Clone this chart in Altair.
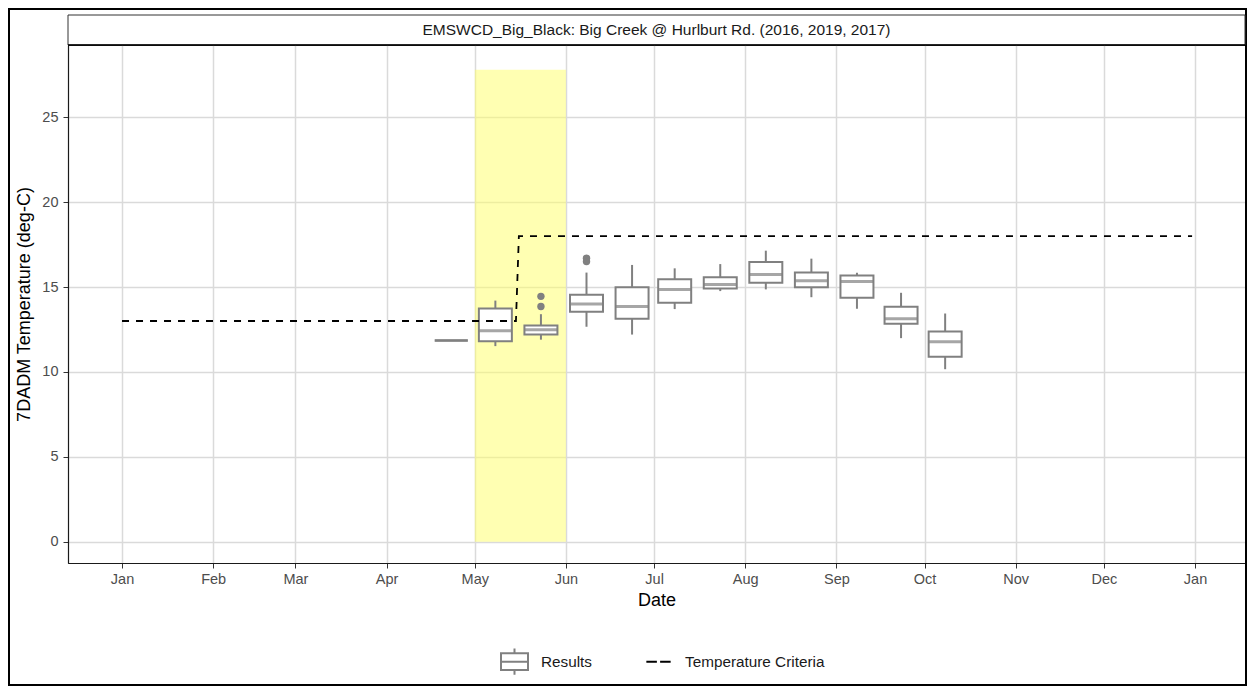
import altair as alt
import pandas as pd

# ---------------- data ----------------
strip_title = "EMSWCD_Big_Black: Big Creek @ Hurlburt Rd. (2016, 2019, 2017)"

box_dates = ["2019-04-23 00:00", "2019-05-08 00:00", "2019-05-23 12:00", "2019-06-08 00:00",
             "2019-06-23 12:00", "2019-07-08 00:00", "2019-07-23 12:00", "2019-08-08 00:00",
             "2019-08-23 12:00", "2019-09-08 00:00", "2019-09-23 00:00", "2019-10-08 00:00"]
box_low = [11.85, 11.52, 11.90, 12.66, 12.20, 13.70, 14.76, 14.86, 14.40, 13.72, 11.99, 10.16]
box_q1 = [11.85, 11.80, 12.20, 13.54, 13.13, 14.07, 14.92, 15.25, 14.98, 14.37, 12.83, 10.89]
box_med = [11.85, 12.42, 12.48, 14.00, 13.86, 14.86, 15.15, 15.74, 15.37, 15.33, 13.13, 11.77]
box_q3 = [11.85, 13.74, 12.74, 14.55, 14.98, 15.45, 15.57, 16.47, 15.86, 15.68, 13.84, 12.38]
box_high = [11.85, 14.20, 13.40, 15.85, 16.30, 16.10, 16.35, 17.14, 16.67, 15.84, 14.66, 13.44]

outlier_dates = ["2019-05-23 12:00", "2019-05-23 12:00", "2019-06-08 00:00", "2019-06-08 00:00"]
outlier_values = [13.85, 14.45, 16.50, 16.70]

criteria_dates = ["2019-01-01 00:00", "2019-05-15 00:00", "2019-05-16 00:00", "2019-12-31 00:00"]
criteria_values = [13, 13, 18, 18]

spawn_start = ["2019-05-01 00:00"]
spawn_end = ["2019-06-01 00:00"]
spawn_low = [0]
spawn_high = [27.8]

series_names = ["Results", "Temperature Criteria"]
month_ticks = ["2019-%02d-01" % m for m in range(1, 13)] + ["2020-01-01"]
y_ticks = [0, 5, 10, 15, 20, 25]

# ---------------- tables ----------------
def dt(vals):
    return pd.to_datetime(vals, format="%Y-%m-%d %H:%M")

boxes = pd.DataFrame({
    "date": dt(box_dates), "low": box_low, "q1": box_q1,
    "median": box_med, "q3": box_q3, "high": box_high,
})
outliers = pd.DataFrame({"date": dt(outlier_dates), "value": outlier_values})
criteria = pd.DataFrame({"date": dt(criteria_dates), "value": criteria_values})
spawn = pd.DataFrame({"start": dt(spawn_start), "end": dt(spawn_end),
                      "lo": spawn_low, "hi": spawn_high})
one = pd.DataFrame({"t": [strip_title]})
legend_df = pd.DataFrame({"series": series_names})

W, H = 1177, 518
FONT = "Liberation Sans"
GREY = "#808080"

x_scale = alt.Scale(domain=[alt.DateTime(year=2018, month=12, date=13, hours=15),
                            alt.DateTime(year=2020, month=1, date=18)], padding=0, nice=False)
y_scale = alt.Scale(domain=[-1.25, 29.25], nice=False, zero=False, padding=0)

month_vals = [alt.DateTime(year=int(s[:4]), month=int(s[5:7]), date=1) for s in month_ticks]

x_axis = alt.Axis(title="Date", values=month_vals, format="%b", formatType="time",
                  grid=True, tickSize=5, labelPadding=4, titlePadding=6)
y_axis = alt.Axis(title="7DADM Temperature (deg-C)", values=y_ticks, grid=True,
                  tickSize=5, labelPadding=5, titlePadding=8)

X = alt.X("date:T", scale=x_scale, axis=x_axis)

border = alt.Chart(one).mark_rect(fill="white", fillOpacity=0, stroke="black", strokeWidth=2).encode(
    x=alt.value(-59), x2=alt.value(W + 1), y=alt.value(-36), y2=alt.value(H + 122))

strip = alt.Chart(one).mark_rect(fill="white", stroke="#333333", strokeWidth=1).encode(
    x=alt.value(0), x2=alt.value(W), y=alt.value(-30), y2=alt.value(0))
strip_line = alt.Chart(one).mark_rule(color="black", strokeWidth=1.6).encode(
    x=alt.value(0), x2=alt.value(W), y=alt.value(0))
strip_text = alt.Chart(one).mark_text(font=FONT, fontSize=15.5, color="#1A1A1A", baseline="middle").encode(
    x=alt.value(W / 2), y=alt.value(-15), text="t:N")

spawn_rect = alt.Chart(spawn).mark_rect(color="#ffff66", opacity=0.5).encode(
    x=alt.X("start:T", scale=x_scale, axis=x_axis), x2="end:T",
    y=alt.Y("lo:Q", scale=y_scale, axis=y_axis), y2="hi:Q")

whisk = alt.Chart(boxes).mark_rule(color=GREY, strokeWidth=2).encode(
    x=X, y=alt.Y("low:Q", scale=y_scale, axis=y_axis), y2="high:Q")
box = alt.Chart(boxes).mark_bar(size=33, fill="white", stroke=GREY, strokeWidth=2).encode(
    x=X, y=alt.Y("q1:Q", scale=y_scale, axis=y_axis), y2="q3:Q")
med = alt.Chart(boxes).mark_tick(orient="horizontal", size=33, thickness=3, color=GREY).encode(
    x=X, y=alt.Y("median:Q", scale=y_scale, axis=y_axis))
outl = alt.Chart(outliers).mark_circle(size=55, color=GREY, opacity=1).encode(
    x=X, y=alt.Y("value:Q", scale=y_scale, axis=y_axis))

crit = alt.Chart(criteria).mark_line(color="black", strokeDash=[7, 7], strokeWidth=1.8).encode(
    x=X, y=alt.Y("value:Q", scale=y_scale, axis=y_axis))

box_path = "M-1,-0.62H1V0.62H-1Z M-1,0H1 M0,-0.62V-0.98 M0,0.62V0.98"
dash_path = "M-0.9,0H-0.12 M0.12,0H0.9 M0,-0.98L0,-0.98 M0,0.98L0,0.98"
leg = alt.Legend(title=None, orient="none", legendX=432, legendY=602, direction="horizontal",
                 symbolSize=729, symbolStrokeWidth=2, symbolOpacity=1, labelFont=FONT,
                 labelFontSize=15.3, labelColor="#1A1A1A", labelOffset=12, columnPadding=49,
                 padding=0)
dummy = alt.Chart(legend_df).mark_point(opacity=0, filled=False, size=729).encode(
    shape=alt.Shape("series:N", scale=alt.Scale(domain=series_names, range=[box_path, dash_path]), legend=leg),
    color=alt.Color("series:N", scale=alt.Scale(domain=series_names, range=[GREY, "black"]), legend=leg),
)

chart = alt.layer(
    border, spawn_rect, whisk, box, med, outl, crit, strip, strip_line, strip_text, dummy
).properties(
    width=W, height=H,
    padding={"left": 60, "top": 37, "right": 3, "bottom": 123},
    autosize=alt.AutoSizeParams(type="none"),
).configure_view(
    stroke="#333333", strokeWidth=1
).configure_axis(
    labelFont=FONT, titleFont=FONT, labelFontSize=14.5, titleFontSize=18,
    labelColor="#4D4D4D", titleColor="#000000", titleFontWeight="normal",
    tickColor="#333333", domainColor="#1a1a1a", domainWidth=1.2,
    gridColor="#DADADA", gridWidth=1.5,
)

chart.save("out.html", embed_options={"renderer": "svg", "actions": False})
